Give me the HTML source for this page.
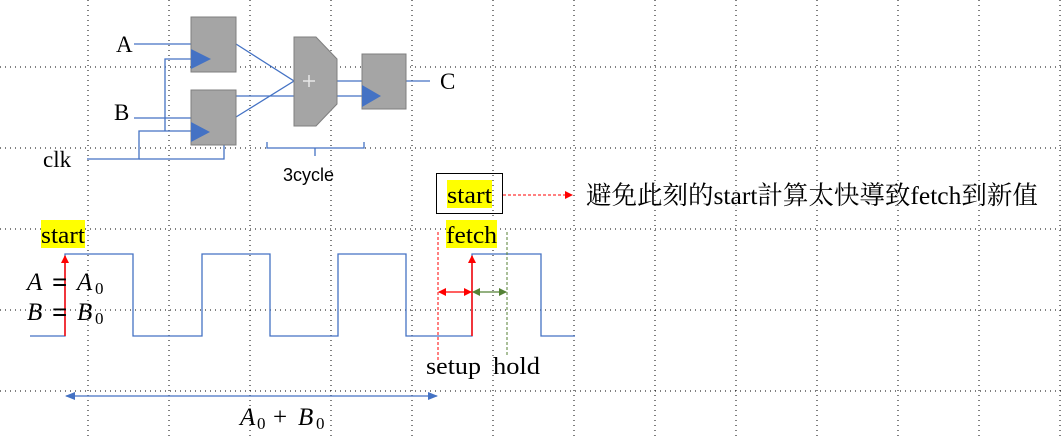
<!DOCTYPE html>
<html><head><meta charset="utf-8"><style>
body{margin:0;background:#fff;width:1062px;height:440px;overflow:hidden}
svg{display:block}
.s{font-family:"Liberation Serif","Noto Serif CJK SC",serif}
</style></head><body>
<svg width="1062" height="440" xmlns="http://www.w3.org/2000/svg">
<defs>
<marker id="ar" markerWidth="8" markerHeight="8" refX="7" refY="4" orient="auto" markerUnits="userSpaceOnUse"><path d="M0,0 L8,4 L0,8z" fill="#f00"/></marker>
<marker id="as" markerWidth="8" markerHeight="8" refX="7" refY="4" orient="auto-start-reverse" markerUnits="userSpaceOnUse"><path d="M0,0 L8,4 L0,8z" fill="#f00"/></marker>
<marker id="ag" markerWidth="8" markerHeight="8" refX="7" refY="4" orient="auto-start-reverse" markerUnits="userSpaceOnUse"><path d="M0,0 L8,4 L0,8z" fill="#548235"/></marker>
<marker id="ab" markerWidth="10" markerHeight="8" refX="9" refY="4" orient="auto-start-reverse" markerUnits="userSpaceOnUse"><path d="M0,0 L10,4 L0,8z" fill="#4472c4"/></marker>
</defs>
<g stroke="#000" stroke-width="1" stroke-dasharray="1,4">
<line x1="88" y1="0" x2="88" y2="440"/><line x1="169" y1="0" x2="169" y2="440"/><line x1="250" y1="0" x2="250" y2="440"/><line x1="331" y1="0" x2="331" y2="440"/><line x1="412" y1="0" x2="412" y2="440"/><line x1="493" y1="0" x2="493" y2="440"/><line x1="574" y1="0" x2="574" y2="440"/><line x1="655" y1="0" x2="655" y2="440"/><line x1="736" y1="0" x2="736" y2="440"/><line x1="817" y1="0" x2="817" y2="440"/><line x1="898" y1="0" x2="898" y2="440"/><line x1="979" y1="0" x2="979" y2="440"/><line x1="1060" y1="0" x2="1060" y2="440"/>
<line x1="0" y1="67" x2="1062" y2="67"/><line x1="0" y1="148" x2="1062" y2="148"/><line x1="0" y1="229" x2="1062" y2="229"/><line x1="0" y1="310" x2="1062" y2="310"/><line x1="0" y1="391" x2="1062" y2="391"/>
</g>
<g stroke="#4472c4" stroke-width="1.3" fill="none">
<path d="M134,44H191"/><path d="M134,118H191"/>
<path d="M87,159H139V131H191"/><path d="M165,131V59H191"/>
<path d="M139,159H224V96H362"/>
<path d="M236,44L294,81L236,117"/><path d="M337,81H362"/><path d="M406,81H430"/>
<path d="M267,142V148H364V142M315,148V156"/>
</g>
<g fill="#a5a5a5" stroke="#7f7f7f">
<rect x="191" y="17" width="45" height="55"/><rect x="191" y="90" width="45" height="55"/>
<path d="M294,37H316L337,59V104L316,126H294Z"/>
<rect x="362" y="54" width="44" height="55"/>
</g>
<g fill="#4472c4"><path d="M191,49L211,59L191,69Z"/><path d="M191,122L210,132L191,142Z"/><path d="M362,85L381,96L362,107Z"/></g>
<path d="M303,81H315M309,75V87" stroke="#e8e8e8" stroke-width="1.5"/>
<g class="s" font-size="23" fill="#000"><text x="116" y="52">A</text><text x="114" y="120">B</text><text x="43" y="167">clk</text><text x="440" y="89">C</text></g>
<text x="283" y="181" font-family="Liberation Sans,sans-serif" font-size="18">3cycle</text>
<path d="M30,336H65V254H133V336H202V254H270V336H338V254H406V336H472V254H541V336H575" stroke="#4472c4" stroke-width="1.3" fill="none"/>
<line x1="65" y1="336" x2="65" y2="256" stroke="#f00" stroke-width="1.5" marker-end="url(#ar)"/>
<line x1="472" y1="336" x2="472" y2="256" stroke="#f00" stroke-width="1.5" marker-end="url(#ar)"/>
<line x1="438" y1="232" x2="438" y2="360" stroke="#f00" stroke-dasharray="3,2"/>
<line x1="507" y1="232" x2="507" y2="355" stroke="#548235" stroke-dasharray="3,2"/>
<line x1="439" y1="292" x2="471" y2="292" stroke="#f00" stroke-width="1.3" marker-start="url(#as)" marker-end="url(#ar)"/>
<line x1="473" y1="292" x2="506" y2="292" stroke="#548235" stroke-width="1.3" marker-start="url(#ag)" marker-end="url(#ag)"/>
<line x1="66" y1="396" x2="437" y2="396" stroke="#4472c4" stroke-width="1.2" marker-start="url(#ab)" marker-end="url(#ab)"/>
<rect x="41" y="220" width="44" height="28" fill="#ff0"/><rect x="446" y="220" width="51" height="28" fill="#ff0"/>
<rect x="436.5" y="173.5" width="66" height="40" fill="none" stroke="#000"/>
<rect x="447" y="180" width="45" height="28" fill="#ff0"/>
<line x1="503" y1="195" x2="572" y2="195" stroke="#f00" stroke-dasharray="3,2" marker-end="url(#ar)"/>
<g class="s" font-size="24" fill="#000">
<text x="41" y="243" textLength="44" lengthAdjust="spacingAndGlyphs">start</text>
<text x="446" y="243" textLength="51" lengthAdjust="spacingAndGlyphs">fetch</text>
<text x="447" y="203" textLength="45" lengthAdjust="spacingAndGlyphs">start</text>
<text x="426" y="374" textLength="55" lengthAdjust="spacingAndGlyphs">setup</text>
<text x="493" y="374" textLength="47" lengthAdjust="spacingAndGlyphs">hold</text>
<text x="586" y="204" font-size="25.5">避免此刻的start計算太快導致fetch到新值</text>
</g>
<g class="s" font-size="25" fill="#000">
<text x="27" y="290" font-style="italic">A</text><text x="52" y="291" font-size="27" font-weight="bold">=</text><text x="77" y="290" font-style="italic">A</text><text x="95" y="294" font-size="17">0</text>
<text x="27" y="320" font-style="italic">B</text><text x="52" y="321" font-size="27" font-weight="bold">=</text><text x="77" y="320" font-style="italic">B</text><text x="95" y="324" font-size="17">0</text>
<text x="240" y="425" font-style="italic">A</text><text x="257" y="429" font-size="17">0</text><text x="273" y="425">+</text><text x="298" y="425" font-style="italic">B</text><text x="316" y="429" font-size="17">0</text>
</g>
</svg>
</body></html>
